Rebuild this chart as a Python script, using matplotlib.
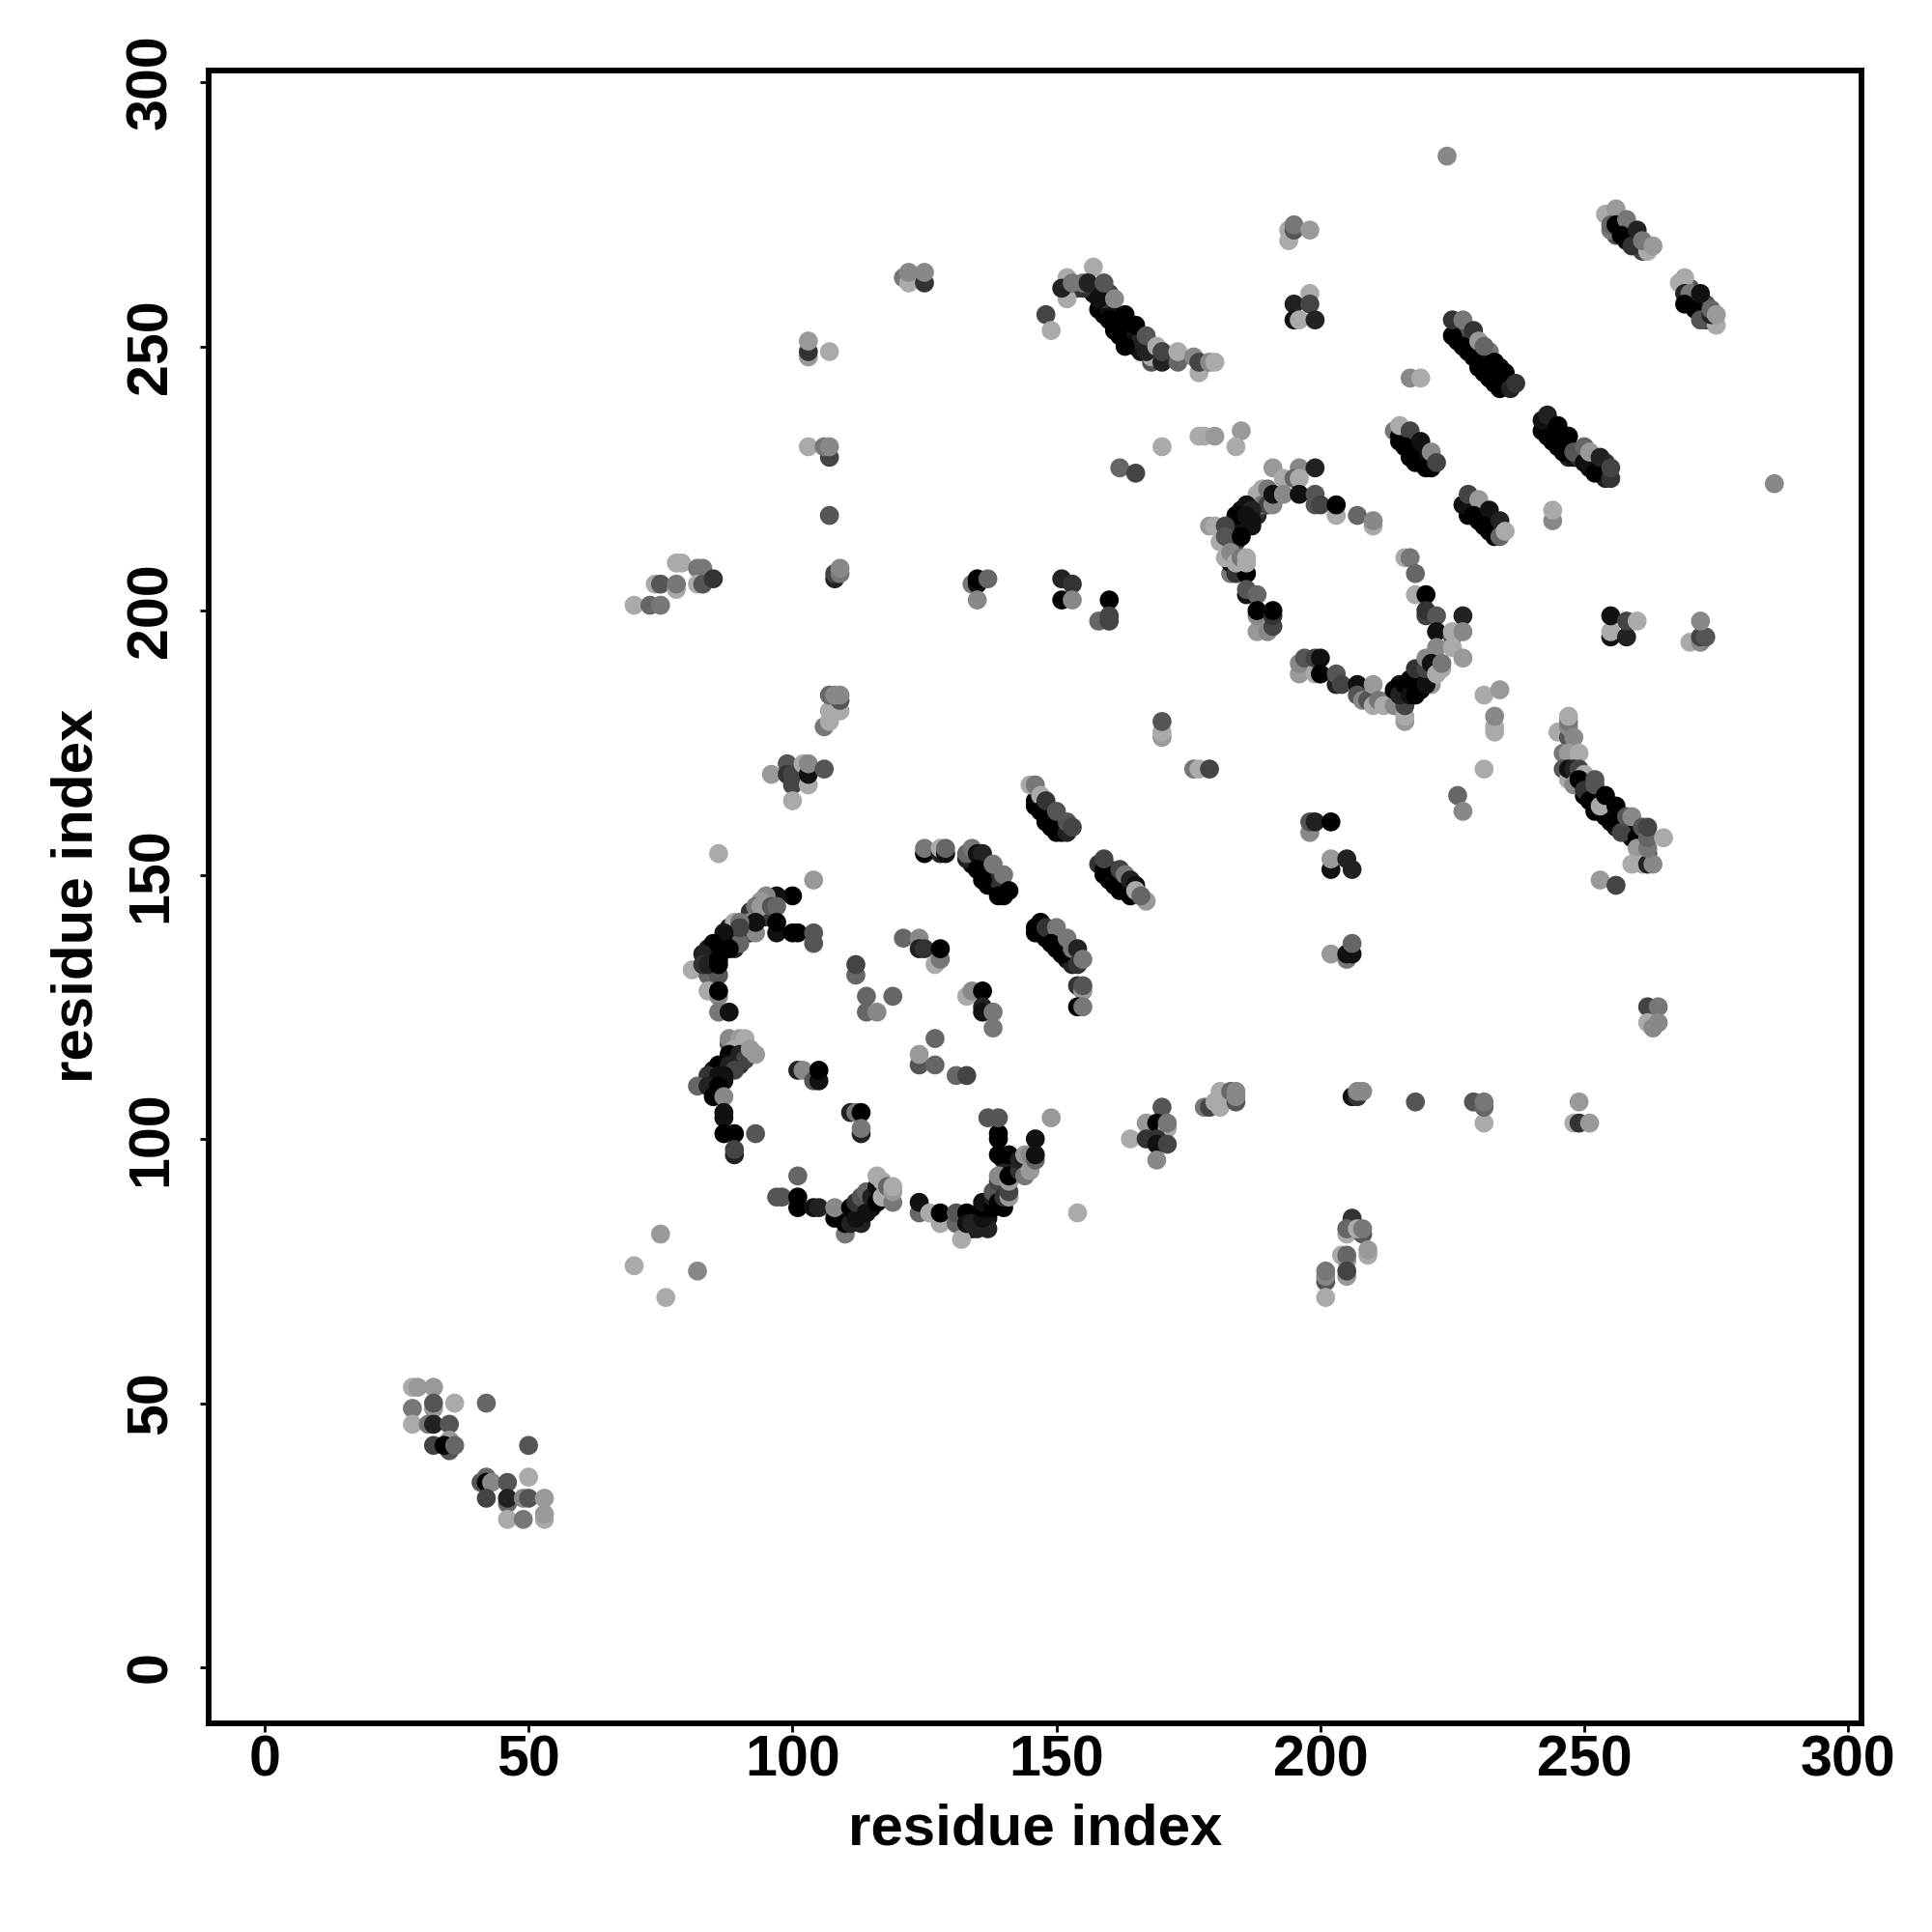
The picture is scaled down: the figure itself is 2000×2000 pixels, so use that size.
import matplotlib
matplotlib.use("Agg")
import matplotlib.pyplot as plt

plt.rcParams['font.family'] = ['Liberation Sans', 'DejaVu Sans']

# each contact: residue i, residue j, shade (0 black .. 10 light grey, out of 15)
corner = [(28,53,10),(29,53,9),(32,53,9),(28,49,7),(32,49,9),(32,50,5),(36,50,10),(42,50,6),
          (28,46,10),(31,46,7),(32,46,2),(35,46,5),(32,42,4),(35,41,5),(35,43,9),(34,42,0),(36,42,6),
          (50,42,5),(41,35,5),(42,36,6),(42,35,0),(43,35,8),(46,35,5),(50,36,10),(42,32,4),
          (46,31,6),(46,32,2),(49,32,8),(50,32,5),(53,28,10),(53,29,9),(53,32,9),(46,28,10),(49,28,7)]

sparse_low = [(70,76,10),(75,82,9),(82,75,8),(76,70,10),(154,86,10),(149,104,9),(224,286,8),(286,224,8)]

# interior of the dense diagonal bands, drawn first so the edges sit on top
band_fill = [(226,252,0),(226,251,0),(228,249,0),(229,248,0),(229,250,1),(231,247,0),(231,245,0),(233,245,0),(233,243,0),(235,243,0),
             (228,252,4),(232,248,2),(234,246,1),(226,254,5),(232,249,7),
             (146,163,0),(147,163,0),(148,161,0),(149,160,1),(150,158,0),(151,158,0),(149,162,2),(151,160,2),(147,164,3),
             (134,152,0),(135,152,1),(136,151,0),(137,150,0),(137,148,0),(138,148,0),(139,147,0),(138,150,2),(139,149,3),(135,153,3),
             (147,139,0),(148,138,0),(149,138,0),(150,136,0),(150,138,2),(151,137,2),(152,135,0),(152,134,1),(153,134,1),(153,133,2),
             (159,150,0),(160,149,0),(160,151,2),(161,150,3),(162,149,1),(162,147,0),(163,147,0),(163,148,1),(164,147,1),
             (215,232,0),(216,232,1),(217,230,0),(218,230,0),(218,228,0),(219,228,0),(219,230,1),(220,229,1),(221,227,0),(216,233,2),
             (243,235,0),(243,233,0),(244,234,1),(245,231,0),(246,232,0),(247,229,2),(248,229,1),(249,229,3),(251,227,0),(251,228,1),
             (252,228,1),(253,226,0),(254,226,1),(254,225,2),(254,228,3),(247,231,3),
             (228,219,0),(228,218,0),(229,220,2),(230,217,0),(231,218,1),(232,215,0),(232,217,1),(233,216,1),
             (257,273,0),(257,272,1),(258,272,1),(259,271,1),(259,270,2),(260,270,3),(260,269,2),(261,268,4),(256,271,5),(255,272,7),
             (270,258,0),(271,259,2),(272,258,1),(272,256,0),(273,256,1),(273,258,5),(273,255,3),(270,261,5),(269,261,8),
             (157,260,1),(158,257,0),(159,258,1),(159,256,0),(160,257,1),(161,255,1),(162,254,0),(162,255,0),(162,252,0),(163,252,0),
             (164,253,0),(164,251,0),(165,250,0),(165,252,1),(166,249,1),(166,251,2),(168,250,2),(168,247,5),(169,248,0),
             (154,261,4),(155,261,3),(160,260,4),(159,259,3),
             (247,171,2),(248,169,1),(249,167,0),(250,165,0),(251,166,0),(252,164,0),(253,165,1),(253,162,0),(254,161,0),(254,163,0),
             (255,162,0),(256,161,0),(256,159,1),(257,160,1),(258,159,1),(259,158,0),(259,157,1),(260,158,1),(261,157,1),(261,155,5),
             (250,168,3),(251,167,4),(262,154,4),(262,153,5),(261,156,0)]

ring_fill = [(113,87,0),(114,88,1),(115,87,1),(116,89,1),(117,90,2),(118,89,1),(113,84,2),(135,85,1),(137,85,1),(137,87,0),
             (137,83,2),(134,83,1),(139,90,1),(140,91,1),(140,87,0),(140,93,2),(142,96,3),(142,94,1),(144,95,1),(145,95,2),(140,96,2),
             (88,138,0),(89,138,1),(85,135,0),(86,136,1),(89,136,2),(88,140,2),(91,139,1),(92,139,3),(84,136,2),(85,134,1),
             (92,143,3),(94,142,2),(95,142,3),(96,143,4),(95,144,2),
             (88,115,1),(89,114,2),(87,113,0),(85,111,0),(85,113,1),(85,109,1),(90,117,3),(91,116,2),(92,116,5),(90,114,3),(88,118,5),(87,111,1),
             (185,219,1),(185,217,1),(186,216,0),(187,216,1),(188,218,2),(188,220,1),(188,219,3),(189,221,3),(190,221,2),(183,216,2),
             (182,215,4),(183,213,5),(184,213,3),
             (218,186,0),(219,187,0),(219,185,0),(219,189,1),(221,188,2),(215,186,1),(216,184,1),(213,183,5),(221,186,9),(222,190,8)]

top_left = [(96,169,9),(99,171,5),(99,169,3),(100,167,4),(100,169,4),(100,164,10),(102,171,10),(103,167,10),
            (103,169,1),(103,171,8),(106,170,5),(86,154,10),(104,149,9)]

ring_upper = [(100,146,0),(97,146,1),(95,146,8),(94,145,9),(93,144,7),(94,144,9),(96,144,5),(97,144,6),
              (93,139,8),(92,141,8),(93,141,1),(97,139,1),(97,141,0),(100,139,0),(101,139,0),(104,137,5),(104,139,5),
              (89,141,10),(90,137,6),(90,141,7),(90,140,4),(87,137,1),(87,139,1),(88,136,0),(85,137,0),
              (81,132,10),(84,131,6),(86,131,5),(83,135,2),(83,133,3),(84,133,2),(86,134,0),(86,133,0),
              (84,128,10),(86,127,8),(86,128,0),(86,124,7),(88,124,1)]

ring_left = [(88,119,8),(90,119,9),(91,119,10),(89,117,10),(89,115,8),(88,116,0),(90,116,2),(91,115,4),
             (92,117,9),(93,116,9),(86,114,0),(88,114,2),(89,113,4),(84,112,3),(86,112,1),(87,112,1),
             (82,110,6),(84,110,2),(86,110,0),(85,108,0),(87,108,8),(87,105,1),(87,104,1),
             (87,101,0),(89,101,0),(93,101,5),(89,97,2),(89,98,4)]

centre = [(101,113,2),(102,113,8),(104,111,5),(105,111,1),(105,113,0),(112,131,6),(112,133,4),(114,127,6),(119,127,6),
          (114,124,6),(116,124,8),(121,138,6),(124,138,8),(124,136,2),(125,136,3),(127,133,10),(128,134,7),(128,136,0),
          (133,127,10),(134,128,8),(136,128,0),(136,125,2),(136,124,1),(138,124,7),(138,121,7),
          (127,119,6),(124,114,5),(124,116,9),(127,114,6),(131,112,6),(133,112,4),
          (111,105,2),(112,105,7),(113,105,0),(113,101,2),(113,102,7)]

band_a = [(125,154,0),(125,155,7),(128,154,2),(128,155,10),(129,154,1),(129,155,6)]
band_b = [(146,164,0),(145,167,10),(146,167,7),(147,165,10),(147,162,0),(148,160,0),(149,159,0),
          (148,164,3),(150,162,5),(152,158,2),(152,160,5),(153,159,4)]
band_c = [(133,153,2),(133,154,6),(134,155,7),(135,154,1),(136,154,2),(135,151,0),(136,149,0),
          (138,152,7),(139,146,0),(140,146,0),(140,150,7),(141,147,0)]
band_d = [(146,139,0),(146,140,0),(147,141,0),(148,140,3),(150,140,7),(149,137,0),(151,135,0),(152,138,7),
          (153,136,7),(154,136,2),(154,133,3),(155,134,7),(154,129,3),(155,128,9),(155,129,5),(154,125,0),(155,125,7)]
band_e = [(158,152,3),(159,151,0),(159,153,4),(161,148,0),(162,151,4),(163,150,7),(164,146,0),(164,149,2),
          (165,148,1),(165,147,10),(167,145,9),(166,146,6)]

ring_bottom = [(101,93,6),(97,89,5),(98,89,5),(101,89,0),(101,87,0),(104,87,1),(105,87,2),(108,85,0),(108,87,8),
               (110,82,7),(110,84,0),(111,84,2),(111,87,0),(112,85,1),(112,88,3),(113,89,5),(114,90,6),(114,86,1),
               (115,89,2),(116,88,0),(116,91,1),(116,93,10),(117,89,10),(117,92,10),(118,91,6),(119,88,7),(119,90,9),(119,91,10),
               (124,86,6),(124,88,1),(126,86,10),(128,84,10),(128,86,0),(131,84,6),(131,86,5),(132,81,10),
               (133,86,0),(133,84,1),(134,84,2),(135,83,2),(136,85,1),(136,87,0),(136,88,1),(138,87,0),(138,89,2),(138,90,5),
               (139,88,0),(139,92,4),(140,89,3),(141,89,9),(141,90,4),(139,93,8),(141,92,9),(141,93,0),
               (139,97,0),(141,97,0),(139,100,0),(139,101,0),(137,104,5),(139,104,5),
               (143,94,3),(143,96,2),(144,93,7),(144,97,9),(145,94,9),(145,97,8),(146,96,6),(146,97,1),(146,100,1)]

mid_right = [(194,272,10),(194,270,10),(195,272,5),(195,273,7),(198,272,9),(198,260,10),(195,258,2),(198,258,4),
             (195,255,1),(196,255,10),(199,255,2),(217,244,8),(219,244,10),
             (177,233,10),(178,233,10),(180,233,9),(185,234,9),(184,231,10),(244,217,8),(244,219,10)]

band_225 = [(225,252,0),(225,255,3),(227,255,7),(227,250,0),(229,253,3),(230,248,0),(230,246,0),(230,251,9),(231,250,6),
            (233,247,0),(232,244,0),(235,245,0),(234,242,0),(236,242,2),(237,243,3)]
band_215 = [(214,234,7),(215,233,0),(215,235,10),(217,234,4),(216,231,0),(219,232,1),(217,229,0),(220,227,0),(221,230,8),(222,228,4)]
band_243 = [(242,234,0),(242,236,1),(243,237,2),(245,235,0),(244,232,0),(247,233,0),(246,230,0),(248,230,5),(250,228,1),(250,231,6),(251,230,9),
            (252,226,0),(253,229,2),(255,225,3),(255,227,4)]
band_227 = [(227,220,1),(228,222,4),(230,221,9),(229,218,0),(232,219,1),(231,216,0),(233,214,0),(234,217,2),(234,214,6),(235,215,10)]
band_254 = [(254,275,10),(256,276,9),(255,273,6),(256,273,0),(258,274,7),(257,271,0),(258,270,0),(259,269,3),(260,272,2),
            (262,268,10),(261,270,7),(263,269,9)]
band_268 = [(268,262,10),(269,263,10),(269,260,2),(270,260,7),(269,258,0),(271,257,0),(272,260,1),(272,255,5),(275,254,10),
            (274,256,2),(274,257,6),(275,256,9)]

curve = [(121,263,7),(122,262,10),(122,264,8),(125,262,3),(125,264,8),(148,256,4),(149,253,10),
         (152,259,10),(152,263,10),(151,261,2),(153,262,7),(155,262,7),(157,265,10),(156,262,2),(158,259,1),(159,262,5),(161,259,8),
         (160,255,0),(163,256,0),(161,253,0),(163,250,0),(165,254,0),(168,248,10),(167,249,2),(167,252,5),(169,250,10),
         (170,247,2),(170,249,4),(173,247,6),(173,249,10),(176,248,8),(177,245,10),(177,247,4),(179,247,8),(180,247,10)]

column_107 = [(103,248,9),(103,249,3),(103,251,9),(107,249,10),(103,231,10),(107,229,4),(106,231,7),(107,231,8),(107,218,5),
              (108,206,2),(108,207,4),(109,207,7),(109,208,8),(106,178,7),(107,179,10),(107,181,10),(109,181,10),
              (107,184,6),(109,183,5),(108,184,8),(109,184,8)]

row_205 = [(78,209,10),(79,209,10),(82,208,7),(83,208,7),(82,205,10),(83,205,5),(85,206,3),
           (74,205,10),(75,205,5),(78,204,10),(78,205,7),(70,201,10),(73,201,6),(75,201,7),
           (134,205,7),(135,205,1),(135,206,0),(137,206,6),(135,202,8),(151,206,2),(153,205,3),(151,202,0),(153,202,8),
           (160,202,0),(158,198,6),(160,199,4),(160,198,4),(162,227,6),(165,226,4),(170,231,10),
           (170,176,9),(170,177,10),(170,179,5),(176,170,7),(177,170,10),(179,170,4)]

ring_high = [(191,227,9),(196,227,8),(199,227,2),(193,225,10),(195,225,6),(196,225,10),
             (188,222,10),(189,223,10),(190,223,7),(189,220,7),(190,220,4),(191,220,8),(191,222,1),(193,222,8),(196,222,1),
             (199,220,5),(199,222,5),(200,220,4),(203,218,10),(203,220,0),(207,218,6),(210,216,10),(210,217,8),
             (186,220,1),(187,219,2),(184,217,1),(184,218,0),(186,218,1),(187,217,1),
             (179,216,9),(180,216,10),(181,213,10),(182,216,4),(182,214,5),(185,214,0),
             (183,207,7),(183,209,1),(184,207,3),(186,207,0),(182,210,10),(183,211,8),(184,209,10),(185,210,7),(186,209,10),(186,210,10),
             (186,203,1),(186,204,5),(188,203,6),(188,196,9),(190,196,8),(188,199,8),(188,200,0),(191,197,4),(191,199,3),(191,200,0)]

ring_high_right = [(216,210,10),(217,210,7),(218,207,6),(218,203,10),(220,203,0),(220,199,4),(220,200,3),(222,199,5),(227,199,2),
                   (222,196,1),(225,195,6),(225,196,10),(227,196,8),(222,193,8),(225,193,10),(227,191,9),
                   (196,188,9),(196,190,8),(197,191,5),(199,188,10),(199,191,4),(200,191,1),(200,188,0),
                   (203,186,2),(203,188,5),(204,186,4),(207,186,1),(207,184,5),(208,183,8),(209,183,5),(210,182,10),(210,186,9),(211,183,7),(212,182,10),
                   (214,182,8),(214,185,0),(216,179,9),(216,180,10),(216,182,4),(215,184,2),(216,186,0),(217,184,1),(217,187,0),(218,184,0),(218,189,3),
                   (220,186,1),(220,189,4),(220,191,8),(221,190,1),(222,188,10),(223,189,10),(223,190,7)]

right_scatter = [(231,184,10),(234,185,9),(233,177,10),(233,178,10),(233,180,8),(231,170,10),
                 (255,195,1),(255,196,10),(255,199,1),(258,195,2),(258,198,4),(260,198,10),
                 (270,194,10),(272,194,8),(272,195,4),(273,195,5),(272,198,8),
                 (226,165,6),(227,162,8),(198,158,8),(198,160,5),(199,160,2),(202,160,0),
                 (202,151,1),(202,153,9),(205,153,2),(206,151,2),
                 (262,125,4),(264,125,7),(262,122,10),(264,122,8),(263,121,8)]

band_247 = [(245,177,10),(247,176,5),(247,178,8),(247,179,7),(247,180,10),(248,176,8),(246,173,7),(247,173,9),(249,173,10),
            (246,170,5),(247,168,10),(247,170,1),(248,170,2),(249,170,4),(250,169,10),(248,167,8),(249,168,0),(250,166,3),
            (251,164,0),(252,168,5),(252,167,5),(252,162,0),(253,163,10),(254,165,0),(255,160,0),(256,163,0),
            (257,158,4),(258,161,5),(259,161,8),(260,157,0),(260,155,9),(259,152,10),(261,152,10),(262,152,2),(263,152,8),
            (261,159,5),(262,155,7),(262,157,6),(262,159,4),(265,157,10),(253,149,9),(256,148,4)]

cross_low = [(170,106,5),(167,103,9),(169,103,0),(171,102,10),(171,103,7),(164,100,10),(167,100,3),(169,100,3),(169,99,1),(171,99,4),(169,96,8),
             (178,106,7),(179,106,4),(181,109,10),(180,107,10),(181,106,10),(183,109,6),(184,107,5),(184,108,8),(184,109,8),
             (206,108,1),(207,108,3),(207,109,8),(208,109,8),(218,107,5),(229,107,5),(231,103,10),(231,106,6),(231,107,7),
             (249,107,9),(248,103,10),(249,103,3),(251,103,9),
             (202,135,9),(205,134,7),(205,135,1),(206,135,1),(206,137,6),
             (206,85,3),(205,82,10),(205,83,6),(208,82,5),(207,83,10),(208,83,7),(209,78,10),(209,79,9),
             (204,78,10),(205,77,9),(205,78,6),(205,74,9),(205,75,4),(201,73,5),(201,74,8),(201,75,7),(201,70,10)]

contacts = (corner + sparse_low + band_fill + ring_fill + top_left + ring_upper + ring_left + centre
            + band_a + band_b + band_c + band_d + band_e
            + ring_bottom + mid_right + band_225 + band_215 + band_243 + band_227 + band_254 + band_268 + curve
            + column_107 + row_205 + ring_high + ring_high_right + right_scatter + band_247 + cross_low)
res_i = [c[0] for c in contacts]
res_j = [c[1] for c in contacts]
shade = [c[2] for c in contacts]

ticks = [0, 50, 100, 150, 200, 250, 300]

fig = plt.figure(figsize=(10, 10), dpi=200)
ax = fig.add_axes([216/2000, 1-1784/2000, (1927-216)/2000, (1784-73)/2000])
ax.scatter(res_i, res_j, c=shade, cmap='gray', vmin=0, vmax=15, s=50, linewidths=0, zorder=3, clip_on=False)
ax.set_xlim(-10.6, 302.5)
ax.set_ylim(-10.6, 302.2)
ax.set_xticks(ticks)
ax.set_yticks(ticks)
ax.tick_params(length=3.3, width=1, labelsize=21.3)
ax.tick_params(axis='x', pad=1)
ax.tick_params(axis='y', pad=8)
for t in ax.get_xticklabels():
    t.set_fontweight('bold')
for t in ax.get_yticklabels():
    t.set_fontweight('bold')
    t.set_rotation(90)
    t.set_va('center')
for s in ax.spines.values():
    s.set_linewidth(2.1)
ax.set_xlabel('residue index', fontsize=21.6, fontweight='bold', va='center')
ax.set_ylabel('residue index', fontsize=21.6, fontweight='bold', va='center')
ax.xaxis.set_label_coords(0.5, -0.0645)
ax.yaxis.set_label_coords(-0.0795, 0.5009)
fig.savefig('out.png', dpi=200)
